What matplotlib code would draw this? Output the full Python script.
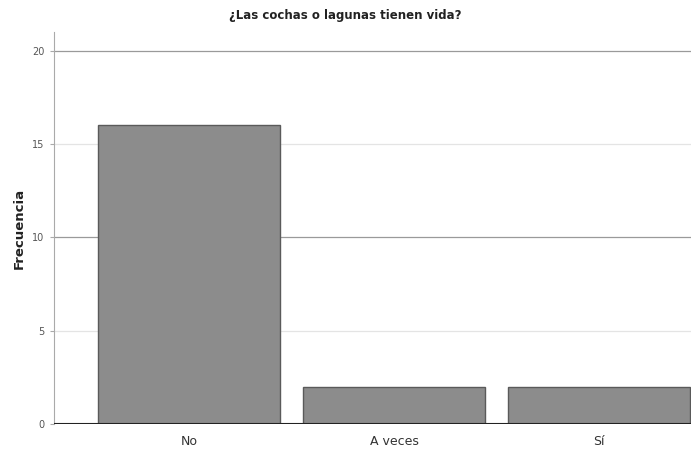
import matplotlib
matplotlib.use("Agg")
import matplotlib.pyplot as plt

categories = ["No", "A veces", "Sí"]
values = [16, 2, 2]
yticks = [0, 5, 10, 15, 20]

fig = plt.figure(figsize=(6.91, 4.49), dpi=100)
ax = fig.add_axes([0.078, 0.0557, 0.922, 0.873])
x = list(range(len(categories)))
ax.bar(x, values, width=0.89, color="#8c8c8c", edgecolor="#5a5a5a", linewidth=1.0, zorder=3)
ax.set_xlim(-0.66, 2.45)
ax.set_ylim(0, 21)
ax.set_yticks(yticks)
ax.set_yticklabels([str(t) for t in yticks], fontsize=7, color="#555555")
ax.set_xticks(x)
ax.set_xticklabels(categories, fontsize=9, color="#333333")
for t in yticks[1:]:
    ax.axhline(t, color="#9a9a9a" if t % 10 == 0 else "#e4e4e4", linewidth=0.9, zorder=1)
ax.axhline(0, color="#222222", linewidth=1.5, zorder=4)
for s in ["top", "right", "bottom"]:
    ax.spines[s].set_visible(False)
ax.spines["left"].set_color("#aaaaaa")
ax.tick_params(axis="y", length=3, color="#aaaaaa", pad=4)
ax.tick_params(axis="x", length=0, pad=8)
ax.set_ylabel("Frecuencia", fontsize=9.5, fontweight="bold", color="#222222")
ax.yaxis.set_label_coords(-0.044, 0.5)
fig.text(0.5, 0.965, "¿Las cochas o lagunas tienen vida?", ha="center", va="center",
         fontsize=8.5, fontweight="bold", color="#222222")
fig.savefig("out.png", dpi=100)
